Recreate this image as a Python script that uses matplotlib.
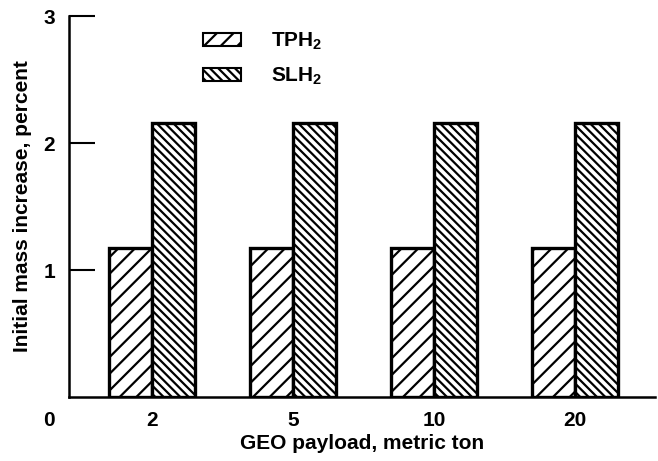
import matplotlib
matplotlib.use("Agg")
import matplotlib.pyplot as plt
import numpy as np

categories = ["2", "5", "10", "20"]
tph2 = [1.17, 1.17, 1.17, 1.17]
slh2 = [2.16, 2.16, 2.16, 2.16]
series_labels = ["TPH$_2$", "SLH$_2$"]
y_ticks = [1, 2, 3]

plt.rcParams['font.family'] = ['Liberation Sans', 'DejaVu Sans']
plt.rcParams['font.weight'] = 'bold'
plt.rcParams['mathtext.fontset'] = 'custom'
plt.rcParams['mathtext.rm'] = 'Liberation Sans:bold'
plt.rcParams['mathtext.bf'] = 'Liberation Sans:bold'
plt.rcParams['mathtext.default'] = 'bf'
plt.rcParams['hatch.linewidth'] = 1.6

W, H = 658, 461
fs = 15
fig = plt.figure(figsize=(W/100, H/100), dpi=100)
ax = fig.add_axes([69/W, 1-397/H, (655-69)/W, (397-16)/H])

x = np.arange(len(categories))
w = 0.305
b1 = ax.bar(x - w/2, tph2, w, facecolor='white', edgecolor='black', linewidth=2.4, hatch='//', label=series_labels[0])
b2 = ax.bar(x + w/2, slh2, w, facecolor='white', edgecolor='black', linewidth=2.4, hatch='\\\\\\\\', label=series_labels[1])

ax.set_xlim(-0.59, 3.57)
ax.set_ylim(0, 3)
ax.spines['top'].set_visible(False)
ax.spines['right'].set_visible(False)
ax.spines['left'].set_linewidth(1.8)
ax.spines['bottom'].set_linewidth(1.8)

ax.set_xticks(x)
ax.set_xticklabels(categories, fontsize=fs, fontweight='bold')
ax.tick_params(axis='x', length=0, pad=10)
ax.set_yticks(y_ticks)
ax.set_yticklabels([str(t) for t in y_ticks], fontsize=fs, fontweight='bold')
ax.tick_params(axis='y', direction='in', length=19, width=1.5, pad=10)

ax.text(-0.025, -0.062, "0", transform=ax.transAxes, ha='right', va='center', fontsize=fs, fontweight='bold')

ax.set_xlabel("GEO payload, metric ton", fontsize=fs, fontweight='bold', labelpad=3)
ax.set_ylabel("Initial mass increase, percent", fontsize=fs, fontweight='bold', labelpad=8)

leg = ax.legend(handles=[b1, b2], loc='upper left', bbox_to_anchor=(203/W, 1-31/H),
                bbox_transform=fig.transFigure, frameon=False, fontsize=fs,
                handlelength=1.8, handleheight=0.55, handletextpad=1.45,
                labelspacing=0.65, borderpad=0, borderaxespad=0)
for p in leg.get_patches():
    p.set_linewidth(1.5)

fig.savefig("out.png", dpi=100)
